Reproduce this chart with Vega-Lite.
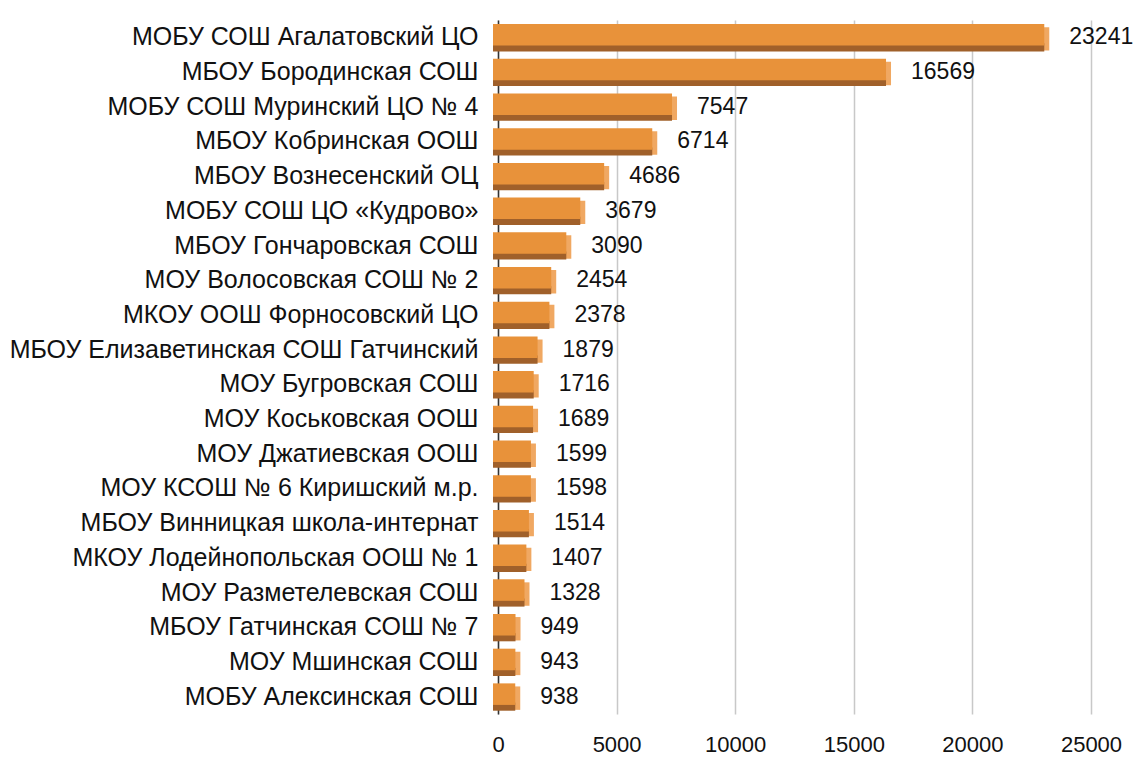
{
  "$schema": "https://vega.github.io/schema/vega-lite/v6.json",
  "width": 593,
  "height": 694,
  "autosize": {"type": "none"},
  "padding": {"left": 498, "top": 20, "right": 43, "bottom": 44},
  "background": "white",
  "config": {
    "view": {"stroke": null},
    "font": "Liberation Sans"
  },
  "data": {
    "values": [
      {"school": "МОБУ СОШ Агалатовский ЦО", "value": 23241},
      {"school": "МБОУ Бородинская СОШ", "value": 16569},
      {"school": "МОБУ СОШ Муринский ЦО № 4", "value": 7547},
      {"school": "МБОУ Кобринская ООШ", "value": 6714},
      {"school": "МБОУ Вознесенский ОЦ", "value": 4686},
      {"school": "МОБУ СОШ ЦО «Кудрово»", "value": 3679},
      {"school": "МБОУ Гончаровская СОШ", "value": 3090},
      {"school": "МОУ Волосовская СОШ № 2", "value": 2454},
      {"school": "МКОУ ООШ Форносовский ЦО", "value": 2378},
      {"school": "МБОУ Елизаветинская СОШ Гатчинский", "value": 1879},
      {"school": "МОУ Бугровская СОШ", "value": 1716},
      {"school": "МОУ Коськовская ООШ", "value": 1689},
      {"school": "МОУ Джатиевская ООШ", "value": 1599},
      {"school": "МОУ КСОШ № 6 Киришский м.р.", "value": 1598},
      {"school": "МБОУ Винницкая школа-интернат", "value": 1514},
      {"school": "МКОУ Лодейнопольская ООШ № 1", "value": 1407},
      {"school": "МОУ Разметелевская СОШ", "value": 1328},
      {"school": "МБОУ Гатчинская СОШ № 7", "value": 949},
      {"school": "МОУ Мшинская СОШ", "value": 943},
      {"school": "МОБУ Алексинская СОШ", "value": 938}
    ]
  },
  "encoding": {
    "y": {
      "field": "school",
      "type": "nominal",
      "sort": null,
      "title": null,
      "axis": {
        "labelFont": "Liberation Sans",
        "labelFontSize": 25,
        "labelColor": "#111111",
        "labelPadding": 20,
        "labelLimit": 600,
        "ticks": false,
        "domain": true,
        "domainColor": "#333333",
        "domainWidth": 1.5,
        "grid": false
      }
    },
    "x": {
      "field": "value",
      "type": "quantitative",
      "scale": {"domain": [0, 25000], "nice": false},
      "title": null,
      "axis": {
        "values": [0, 5000, 10000, 15000, 20000, 25000],
        "format": "d",
        "labelFont": "Liberation Sans",
        "labelFontSize": 22,
        "labelColor": "#111111",
        "labelPadding": 20,
        "labelFlush": false,
        "labelOverlap": false,
        "ticks": false,
        "domain": false,
        "grid": true,
        "gridColor": "#c8c8c8",
        "gridWidth": 1.5
      }
    }
  },
  "layer": [
    {
      "mark": {"type": "bar", "color": "#f0a862", "height": {"band": 0.75}, "yOffset": 1.5}
    },
    {
      "mark": {"type": "bar", "color": "#a0602a", "height": {"band": 0.26}, "yOffset": 10, "xOffset": -5}
    },
    {
      "mark": {"type": "bar", "color": "#e8923a", "height": {"band": 0.69}, "yOffset": -2.5, "xOffset": -5}
    },
    {
      "mark": {"type": "text", "align": "left", "baseline": "middle", "dx": 20, "fontSize": 23, "font": "Liberation Sans", "color": "#111111"},
      "encoding": {"text": {"field": "value", "type": "quantitative", "format": "d"}}
    }
  ]
}
